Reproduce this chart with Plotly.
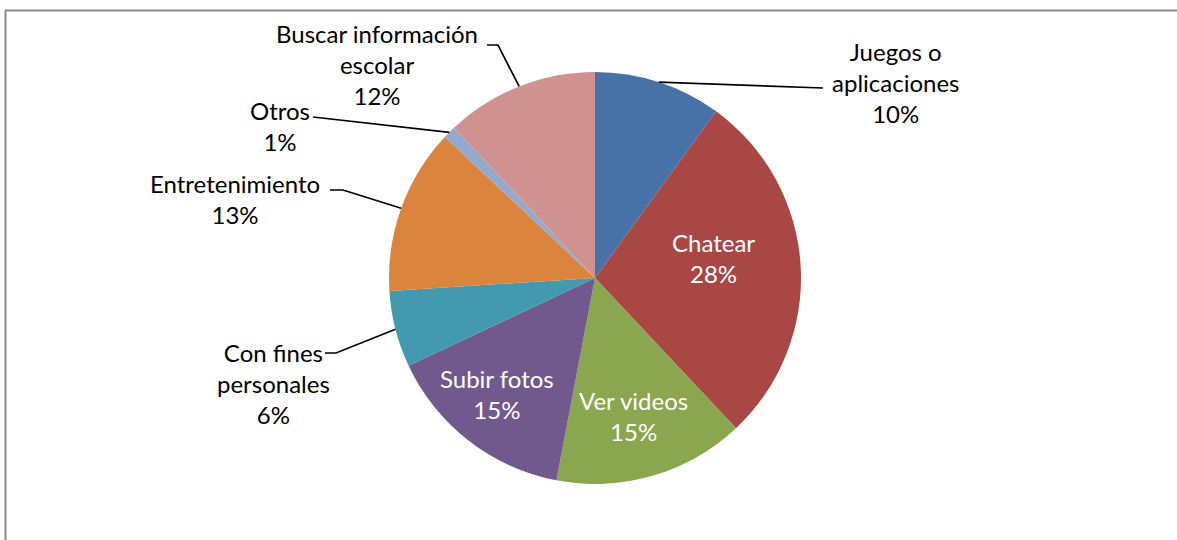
import math
import plotly.graph_objects as go

W, H = 1177, 540

categories = ["Juegos o aplicaciones", "Chatear", "Ver videos", "Subir fotos",
              "Con fines personales", "Entretenimiento", "Otros",
              "Buscar información escolar"]
values = [10, 28, 15, 15, 6, 13, 1, 12]
label_lines = ["Juegos o<br>aplicaciones", "Chatear", "Ver videos", "Subir fotos",
               "Con fines<br>personales", "Entretenimiento", "Otros",
               "Buscar información<br>escolar"]
colors = ["#4672A8", "#A94745", "#8AA64E", "#71598E", "#4299B0", "#DB843D",
          "#93A9D0", "#D09291"]

# pie geometry (pixels)
CX, CY, R = 595, 278, 206
FONT = "Lato"
FS = 24

def px(x):
    return x / W

def py(y):
    return 1 - y / H

fig = go.Figure()
fig.add_trace(go.Pie(
    labels=categories, values=values, sort=False, direction="clockwise",
    rotation=0, marker=dict(colors=colors, line=dict(width=0)),
    textinfo="none", showlegend=False,
    domain=dict(x=[px(CX - R), px(CX + R)], y=[py(CY + R), py(CY - R)]),
))

total = sum(values)
cum = 0
mids = []
for v in values:
    mids.append((cum + v / 2) / total * 2 * math.pi)
    cum += v

def edge(i):
    a = mids[i]
    return CX + R * math.sin(a), CY - R * math.cos(a)

# label settings: (center x, center y, inside?, leader start points)
label_pos = {
    0: (895, 82, False, [(823, 88)]),
    1: (713, 258, True, None),
    2: (633, 416, True, None),
    3: (497, 394, True, None),
    4: (273, 383, False, [(325, 353), (336, 353)]),
    5: (235, 199, False, [(330, 190), (343, 190)]),
    6: (280, 126, False, [(313, 117)]),
    7: (377, 65, False, [(487, 45), (498, 45)]),
}

shapes = []
annotations = []
for i, (x, y, inside, lead) in label_pos.items():
    pct = round(values[i] / total * 100)
    annotations.append(dict(
        x=px(x), y=py(y), xref="paper", yref="paper",
        text=f"{label_lines[i]}<br>{pct}%", showarrow=False,
        font=dict(family=FONT, size=FS, color="white" if inside else "black"),
        align="center", xanchor="center", yanchor="middle",
    ))
    if lead:
        pts = lead + [edge(i)]
        path = "M " + " L ".join(f"{px(a)},{py(b)}" for a, b in pts)
        shapes.append(dict(type="path", path=path, xref="paper", yref="paper",
                           line=dict(color="black", width=1.7)))

# chart border (top and left visible)
shapes.append(dict(type="line", xref="paper", yref="paper",
                   x0=px(5), x1=1, y0=py(10.5), y1=py(10.5),
                   line=dict(color="#8c8c8c", width=2)))
shapes.append(dict(type="line", xref="paper", yref="paper",
                   x0=px(5.5), x1=px(5.5), y0=py(10.5), y1=0,
                   line=dict(color="#8c8c8c", width=2)))

fig.update_layout(
    width=W, height=H, margin=dict(l=0, r=0, t=0, b=0),
    paper_bgcolor="white", plot_bgcolor="white",
    shapes=shapes, annotations=annotations,
    font=dict(family=FONT),
)

fig.write_html("out.html", config={"displayModeBar": False},
               post_script="document.body.style.margin='0';"
                           "document.body.style.padding='0';")
